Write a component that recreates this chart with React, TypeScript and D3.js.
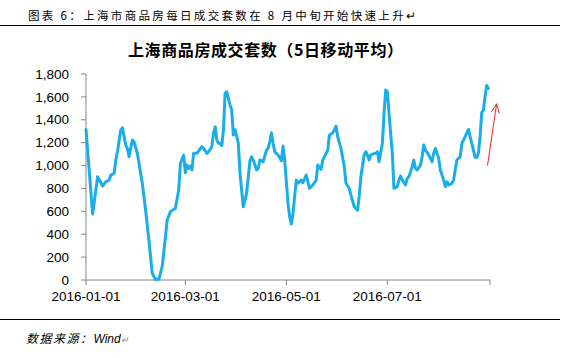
import React from "react";
import * as d3 from "d3";

const W = 566;
const H = 358;

const headerText = "图表 6：上海市商品房每日成交套数在 8 月中旬开始快速上升↵";
const chartTitle = "上海商品房成交套数（5日移动平均）";
const sourceText = "数据来源：Wind↵";

const yTicks = [0, 200, 400, 600, 800, 1000, 1200, 1400, 1600, 1800];
const xTickDates = ["2016-01-01", "2016-03-01", "2016-05-01", "2016-07-01", "2016-09-01"];
const xTickLabels = ["2016-01-01", "2016-03-01", "2016-05-01", "2016-07-01", ""];

const dates = [
  "2016-01-01","2016-01-05","2016-01-08","2016-01-11","2016-01-13","2016-01-15","2016-01-16","2016-01-18","2016-01-19","2016-01-20",
  "2016-01-22","2016-01-23","2016-01-25","2016-01-26","2016-01-27","2016-01-29","2016-01-30",
  "2016-02-01","2016-02-04","2016-02-06","2016-02-08","2016-02-10","2016-02-12","2016-02-14","2016-02-16","2016-02-18","2016-02-19",
  "2016-02-21","2016-02-23","2016-02-24","2016-02-26","2016-02-27","2016-02-29",
  "2016-03-01","2016-03-02","2016-03-03","2016-03-04","2016-03-05","2016-03-06","2016-03-08","2016-03-09","2016-03-11","2016-03-12",
  "2016-03-14","2016-03-15","2016-03-17","2016-03-18","2016-03-19","2016-03-20","2016-03-21","2016-03-22","2016-03-23","2016-03-24",
  "2016-03-25","2016-03-26","2016-03-28","2016-03-29","2016-03-30","2016-03-31",
  "2016-04-02","2016-04-03","2016-04-05","2016-04-07","2016-04-09","2016-04-10","2016-04-11","2016-04-13","2016-04-14","2016-04-15",
  "2016-04-17","2016-04-19","2016-04-20","2016-04-21","2016-04-22","2016-04-23","2016-04-24","2016-04-26","2016-04-28","2016-04-29","2016-04-30",
  "2016-05-02","2016-05-03","2016-05-04","2016-05-05","2016-05-07","2016-05-08","2016-05-10","2016-05-11","2016-05-13","2016-05-15",
  "2016-05-17","2016-05-19","2016-05-20","2016-05-22","2016-05-23","2016-05-26","2016-05-27","2016-05-29","2016-05-30","2016-05-31",
  "2016-06-01","2016-06-03","2016-06-05","2016-06-06","2016-06-08","2016-06-09","2016-06-11","2016-06-13","2016-06-14","2016-06-15",
  "2016-06-17","2016-06-18","2016-06-19","2016-06-20","2016-06-21","2016-06-22","2016-06-24","2016-06-25","2016-06-26","2016-06-28",
  "2016-06-29","2016-06-30",
  "2016-07-01","2016-07-02","2016-07-04","2016-07-05","2016-07-07","2016-07-08","2016-07-09","2016-07-10","2016-07-12","2016-07-13",
  "2016-07-14","2016-07-16","2016-07-17","2016-07-18","2016-07-19","2016-07-21","2016-07-22","2016-07-23","2016-07-24","2016-07-26",
  "2016-07-28","2016-07-29","2016-07-30",
  "2016-08-01","2016-08-02","2016-08-04","2016-08-05","2016-08-06","2016-08-07","2016-08-09","2016-08-10","2016-08-11","2016-08-12",
  "2016-08-14","2016-08-15","2016-08-17","2016-08-19","2016-08-20","2016-08-22","2016-08-23","2016-08-24","2016-08-25","2016-08-26",
  "2016-08-27","2016-08-28","2016-08-29","2016-08-30","2016-08-31",
];

const values = [
  1316, 576, 902, 821, 859, 873, 917, 932, 1048, 1121,
  1310, 1330, 1179, 1150, 1077, 1223, 1208,
  1107, 845, 611, 349, 58, 4, 6, 116, 378, 524,
  597, 617, 626, 786, 1019, 1092,
  937, 1004, 975, 996, 961, 1107, 1107, 1127, 1165, 1150,
  1107, 1121, 1165, 1281, 1339, 1223, 1194, 1194, 1173, 1310,
  1631, 1645, 1528, 1485, 1266, 1316,
  1194, 932, 640, 757, 1040, 1077, 1048, 961, 975, 1048,
  1034, 1135, 1150, 1208, 1287, 1194, 1121, 1092, 1042, 1170, 1048,
  670, 553, 489, 582, 873, 845, 873, 850, 917, 801,
  830, 873, 1004, 967, 1048, 1135, 1266, 1287, 1310, 1345,
  1252, 1150, 990, 845, 801, 742, 640, 611, 728, 902,
  1092, 1121, 1092, 1048, 1092, 1100, 1107, 1121, 1034, 1194,
  1456, 1660,
  1645, 1456, 1107, 801, 815, 873, 908, 873, 830, 888,
  902, 990, 1048, 975, 961, 1004, 1077, 1179, 1135, 1092,
  1034, 1107, 1150,
  1063, 961, 873, 815, 859, 830, 845, 873, 961, 1048,
  1077, 1194, 1252, 1316, 1252, 1135, 1072, 1072, 1107, 1252,
  1462, 1485, 1601, 1700, 1674,
];

// annotation arrow (data space)
const arrowFrom = { date: "2016-08-30T12:00", value: 1000 };
const arrowTo = { date: "2016-09-05T00:00", value: 1540 };

const parse = d3.utcParse("%Y-%m-%d");
const parseT = d3.utcParse("%Y-%m-%dT%H:%M");

export default function App() {
  const x = d3
    .scaleUtc()
    .domain([parse("2016-01-01")!, parse("2016-09-01")!])
    .range([86, 490]);
  const y = d3.scaleLinear().domain([0, 1800]).range([280, 74]);

  const pts = dates.map((d, i) => [x(parse(d)!), y(values[i])] as [number, number]);
  const linePath = d3.line().curve(d3.curveLinear)(pts) || "";

  const ax = x(parseT(arrowFrom.date)!);
  const ay = y(arrowFrom.value);
  const bx = x(parseT(arrowTo.date)!);
  const by = y(arrowTo.value);
  const ang = Math.atan2(by - ay, bx - ax);
  const hl = 10;
  const spread = 0.42;
  const h1 = [bx - hl * Math.cos(ang - spread), by - hl * Math.sin(ang - spread)];
  const h2 = [bx - hl * Math.cos(ang + spread), by - hl * Math.sin(ang + spread)];

  const axisColor = "#868686";
  const numFont = "'Liberation Sans', Arial, sans-serif";
  const cjkFont = "'Noto Sans CJK SC', 'Noto Sans', sans-serif";

  return (
    <svg
      width={W}
      height={H}
      style={{ position: "absolute", left: 0, top: 0, background: "#fff" }}
    >
      <rect x={0} y={0} width={W} height={H} fill="#fff" />
      {/* header */}
      <text
        x={28}
        y={20}
        fontFamily={cjkFont}
        fontSize={11.5}
        fill="#000"
        textLength={388}
        lengthAdjust="spacing"
      >
        {headerText}
      </text>
      <line x1={0} x2={560} y1={25.5} y2={25.5} stroke="#000" strokeWidth={1.2} />

      {/* chart title */}
      <text
        x={128}
        y={56}
        fontFamily={cjkFont}
        fontSize={16}
        fontWeight="bold"
        fill="#000"
        textLength={275}
        lengthAdjust="spacing"
      >
        {chartTitle}
      </text>

      {/* y axis */}
      <line x1={86} x2={86} y1={y(1800)} y2={y(0)} stroke={axisColor} strokeWidth={1} />
      {yTicks.map((t) => (
        <g key={t}>
          <line x1={81} x2={86} y1={y(t)} y2={y(t)} stroke={axisColor} strokeWidth={1} />
          <text
            x={69}
            y={y(t) + 4.7}
            textAnchor="end"
            fontFamily={numFont}
            fontSize={13.5}
            fill="#000"
          >
            {d3.format(",")(t)}
          </text>
        </g>
      ))}

      {/* x axis */}
      <line x1={86} x2={490} y1={280} y2={280} stroke={axisColor} strokeWidth={1} />
      {xTickDates.map((d, i) => {
        const px = x(parse(d)!);
        return (
          <g key={d}>
            <line x1={px} x2={px} y1={280} y2={285} stroke={axisColor} strokeWidth={1} />
            <text
              x={px}
              y={301}
              textAnchor="middle"
              fontFamily={numFont}
              fontSize={13.5}
              fill="#000"
            >
              {xTickLabels[i]}
            </text>
          </g>
        );
      })}

      {/* series */}
      <path
        d={linePath}
        fill="none"
        stroke="#1aaee8"
        strokeWidth={3}
        strokeLinejoin="round"
        strokeLinecap="round"
      />

      {/* arrow annotation */}
      <line x1={ax} y1={ay} x2={bx} y2={by} stroke="#e8262a" strokeWidth={1} />
      <polyline
        points={`${h1[0]},${h1[1]} ${bx},${by} ${h2[0]},${h2[1]}`}
        fill="none"
        stroke="#e8262a"
        strokeWidth={1}
      />

      {/* footer */}
      <line x1={0} x2={560} y1={319.5} y2={319.5} stroke="#000" strokeWidth={1.2} />
      <text
        x={26}
        y={343}
        fontFamily={cjkFont}
        fontSize={12}
        fontStyle="italic"
        fill="#000"
      >
        <tspan textLength={66} lengthAdjust="spacing">数据来源：</tspan>
        <tspan fontFamily={numFont}>Wind</tspan>
        <tspan fill="#888" fontSize={9}>↵</tspan>
      </text>
    </svg>
  );
}
